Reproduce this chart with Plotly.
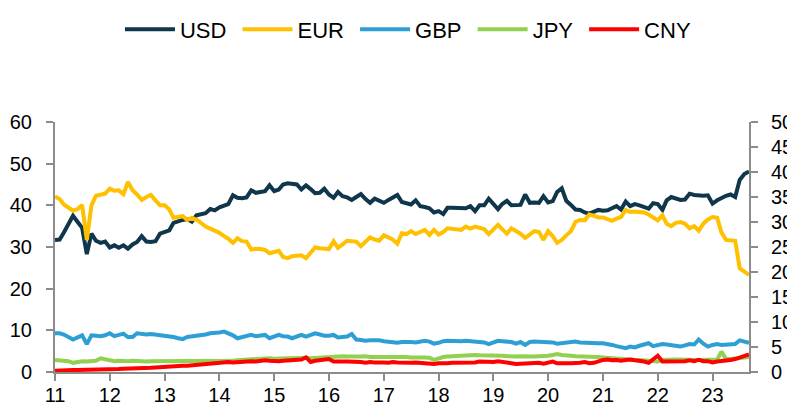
import pandas as pd
import plotly.graph_objects as go

months = pd.date_range("2011-01-01", periods=153, freq="MS")

usd = [31.7, 31.8, 33.5, 35.5, 37.5, 36.0, 34.6, 28.3, 33.2, 31.5, 31.0, 31.3,
       29.9, 30.4, 29.8, 30.4, 29.6, 30.6, 31.2, 32.6, 31.3, 31.2, 31.4, 33.2,
       33.6, 34.0, 35.8, 36.2, 36.5, 36.7, 36.1, 37.6, 37.8, 38.1, 39.1, 38.8,
       39.5, 39.9, 40.3, 42.4, 41.8, 41.7, 41.9, 43.6, 43.0, 43.2, 43.4, 44.8,
       43.4, 43.8, 45.0, 45.3, 45.1, 45.0, 43.8, 44.8, 43.9, 42.9, 43.0, 44.0,
       42.6, 41.8, 43.2, 42.2, 41.9, 41.3, 42.0, 42.7, 41.5, 40.6, 41.6, 41.2,
       40.6, 41.3, 41.8, 42.5, 40.8, 40.6, 40.2, 41.2, 39.8, 39.6, 39.3, 38.3,
       38.6, 37.9, 39.4, 39.4, 39.3, 39.4, 39.3, 39.8, 38.6, 40.0, 40.0, 41.6,
       40.2, 39.1, 40.3, 41.1, 40.0, 40.1, 40.1, 42.6, 40.6, 40.7, 40.6, 42.2,
       40.7, 41.0, 43.2, 44.1, 41.1, 40.1, 39.0, 38.9, 38.3, 38.0, 38.4, 38.9,
       38.7, 38.8, 39.3, 39.8, 39.0, 40.9, 39.8, 40.3, 40.0, 39.6, 39.2, 40.5,
       40.3, 38.9, 41.2, 42.0, 41.6, 41.3, 41.4, 42.8, 42.5, 42.3, 42.3, 42.4,
       40.4, 41.2, 41.8, 42.3, 42.6, 42.0, 46.1, 47.5, 48.1]

eur = [42.1, 41.5, 40.2, 39.3, 38.7, 39.1, 40.1, 31.7, 40.0, 42.3, 42.6, 42.8,
       44.0, 43.5, 43.6, 42.7, 45.6, 43.6, 42.6, 41.3, 42.0, 42.5, 41.2, 40.0,
       40.0, 39.0, 37.0, 37.2, 37.4, 36.5, 37.0, 36.6, 35.6, 34.9, 34.4, 34.0,
       33.4, 32.6, 32.0, 31.0, 32.1, 31.4, 31.3, 29.4, 29.6, 29.5, 29.3, 28.5,
       28.8, 29.1, 27.6, 27.3, 27.8, 27.9, 28.0, 27.3, 28.6, 29.9, 29.7, 29.6,
       29.5, 31.4, 29.8, 30.6, 31.5, 31.4, 31.3, 30.2, 31.2, 32.3, 31.8, 31.5,
       32.8, 32.4, 31.8, 30.8, 33.3, 33.1, 33.8, 33.1, 33.6, 34.1, 32.9, 34.1,
       33.0, 33.6, 34.5, 34.4, 34.3, 34.1, 34.9, 34.4, 34.9, 34.5, 34.3, 33.1,
       34.2, 35.3, 34.3, 33.2, 34.5, 33.9, 33.2, 32.2, 33.0, 33.8, 33.6, 31.7,
       33.8, 32.6, 31.0, 31.7, 32.8, 33.8, 36.0, 36.5, 36.4, 37.8, 37.5, 37.1,
       37.1, 36.8, 36.3, 36.8, 37.2, 38.9, 38.4, 38.5, 38.3, 38.3, 37.8, 37.0,
       36.4, 37.6, 35.6, 35.0, 35.8, 36.0, 35.6, 34.5, 35.0, 33.9, 35.6, 36.6,
       37.2, 37.0, 33.5, 31.7, 31.6, 31.5, 24.9, 24.0, 23.3]

gbp = [9.3, 9.3, 9.0, 8.4, 7.8, 8.3, 8.8, 6.7, 8.8, 8.7, 8.6, 8.8,
       9.3, 8.6, 9.0, 9.2, 8.4, 8.4, 9.3, 9.1, 9.0, 9.1, 9.0, 8.9,
       8.8, 8.6, 8.4, 8.1, 7.9, 8.4, 8.5, 8.6, 8.9, 9.0, 9.3, 9.3,
       9.5, 9.7, 9.3, 8.8, 8.1, 8.3, 8.6, 8.9, 8.6, 8.7, 8.9, 8.1,
       8.5, 8.9, 8.6, 8.5, 8.1, 8.5, 8.9, 8.5, 8.9, 9.3, 9.0, 8.7,
       8.7, 8.9, 8.3, 8.3, 8.5, 9.1, 7.8, 7.7, 7.5, 7.6, 7.7, 7.6,
       7.4, 7.2, 7.0, 7.0, 7.2, 7.3, 7.2, 7.1, 7.3, 7.5, 7.3, 6.8,
       7.0, 7.4, 7.5, 7.4, 7.3, 7.4, 7.5, 7.4, 7.3, 7.2, 7.1, 6.7,
       7.1, 7.5, 7.4, 7.4, 7.2, 6.8, 7.2, 6.5, 7.2, 7.3, 7.3, 7.3,
       7.3, 7.1, 6.8, 6.9, 7.0, 7.1, 7.3, 7.1, 7.0, 7.0, 6.9, 6.9,
       6.9, 6.8, 6.5, 6.2, 6.0, 5.7, 6.1, 5.9, 6.3, 6.6, 6.9, 6.2,
       6.5, 6.7, 6.6, 6.5, 6.3, 6.1, 6.4, 6.7, 6.6, 7.8, 6.8, 6.1,
       6.5, 6.7, 6.5, 6.6, 6.7, 6.7, 7.6, 7.2, 7.0]

jpy = [2.9, 2.8, 2.8, 2.6, 2.2, 2.4, 2.6, 2.5, 2.6, 2.7, 3.3, 3.0,
       2.7, 2.6, 2.7, 2.6, 2.6, 2.7, 2.6, 2.6, 2.5, 2.6, 2.6, 2.5,
       2.6, 2.6, 2.7, 2.5, 2.6, 2.6, 2.7, 2.6, 2.6, 2.7, 2.6, 2.7,
       2.7, 2.7, 2.6, 2.7, 2.8, 2.9, 3.0, 2.9, 3.0, 3.1, 3.2, 3.3,
       3.2, 3.3, 3.2, 3.3, 3.3, 3.4, 3.3, 3.4, 3.3, 3.4, 3.5, 3.6,
       3.7, 3.6, 3.7, 3.8, 3.7, 3.8, 3.7, 3.7, 3.8, 3.6, 3.7, 3.6,
       3.6, 3.7, 3.6, 3.6, 3.7, 3.6, 3.5, 3.6, 3.5, 3.5, 3.4, 2.9,
       3.3, 3.6, 3.7, 3.8, 3.8, 3.9, 3.9, 4.0, 4.1, 4.0, 4.0, 4.1,
       4.0, 4.1, 3.9, 3.8, 3.7, 3.7, 3.8, 3.7, 3.6, 3.7, 3.8, 3.8,
       3.9, 4.1, 4.3, 4.1, 3.9, 3.9, 3.8, 3.8, 3.7, 3.7, 3.6, 3.6,
       3.5, 3.4, 3.2, 3.1, 3.0, 3.0, 3.0, 2.9, 2.9, 2.8, 2.8, 2.8,
       2.5, 2.9, 3.0, 3.0, 3.0, 3.0, 2.9, 2.9, 2.9, 2.9, 2.9, 2.9,
       3.0, 3.0, 4.9, 3.1, 3.1, 3.2, 3.4, 3.6, 3.6]

cny = [0.3, 0.4, 0.4, 0.4, 0.5, 0.5, 0.5, 0.5, 0.6, 0.6, 0.6, 0.6,
       0.7, 0.7, 0.7, 0.8, 0.8, 0.8, 0.9, 0.9, 1.0, 1.0, 1.1, 1.2,
       1.3, 1.3, 1.4, 1.5, 1.5, 1.5, 1.6, 1.7, 1.8, 2.0, 2.2, 2.3,
       2.4, 2.3, 2.4, 2.3, 2.4, 2.5, 2.5, 2.6, 2.5, 2.7, 2.8, 2.7,
       2.6, 2.6, 2.7, 2.8, 2.9, 2.9, 3.0, 3.5, 2.4, 2.7, 2.8, 2.9,
       3.1, 2.5, 2.6, 2.5, 2.5, 2.5, 2.3, 2.4, 2.2, 2.4, 2.3, 2.4,
       2.3, 2.2, 2.4, 2.3, 2.2, 2.3, 2.2, 2.3, 2.2, 2.3, 2.2, 1.9,
       2.1, 2.0, 2.1, 2.2, 2.2, 2.3, 2.2, 2.4, 2.3, 2.5, 2.4, 2.5,
       2.4, 2.6, 2.5, 2.2, 2.1, 1.9, 2.0, 2.1, 2.0, 2.1, 2.2, 2.0,
       2.3, 2.5, 2.1, 2.0, 2.1, 2.1, 2.1, 2.2, 2.4, 2.1, 2.2, 2.6,
       2.9, 3.0, 2.8, 2.9, 2.7, 2.9, 3.0, 2.8, 2.7, 2.5, 2.2, 3.1,
       3.9, 2.5, 2.5, 2.5, 2.5, 2.5, 2.6, 2.8, 2.6, 2.9, 2.6, 2.6,
       2.3, 2.5, 2.7, 2.8, 2.9, 3.1, 3.5, 3.9, 4.2]

series = [("USD", usd, "#10364B"), ("EUR", eur, "#FFC000"),
          ("GBP", gbp, "#2E9FD5"), ("JPY", jpy, "#92D050"),
          ("CNY", cny, "#FF0000")]

left_ticks = [0, 10, 20, 30, 40, 50, 60]
right_ticks = [0, 5, 10, 15, 20, 25, 30, 35, 40, 45, 50]

fig = go.Figure()
for name, vals, col in series:
    fig.add_trace(go.Scatter(x=months, y=vals, name=name + "\u00a0", mode="lines",
                             line=dict(color=col, width=4)))
# empty trace so that the secondary (right) axis is drawn
fig.add_trace(go.Scatter(x=[], y=[], yaxis="y2", showlegend=False,
                         hoverinfo="skip", mode="lines"))

axis_col = "#8C8C8C"
font_family = "Liberation Sans, Arial"
tick_font = dict(family=font_family, size=20, color="#000000")

axis_common = dict(showgrid=False, zeroline=False, showline=True,
                   linecolor=axis_col, linewidth=2, automargin=False,
                   ticks="outside", ticklen=7, tickwidth=2, tickcolor=axis_col,
                   tickfont=tick_font)

# the page body adds an 8px offset, so the figure is 787x399
fig.update_layout(
    template="none",
    width=787, height=399,
    margin=dict(l=47, r=46, t=114, b=35, autoexpand=False),
    paper_bgcolor="white", plot_bgcolor="white",
    showlegend=True,
    legend=dict(orientation="h", xref="container", yref="container",
                x=0.512, xanchor="center", y=0.946, yanchor="middle",
                font=dict(family=font_family, size=22, color="#000000"),
                bgcolor="rgba(0,0,0,0)",
                itemwidth=50, traceorder="normal"),
    xaxis=dict(range=["2011-01-01", "2023-09-01"], tickformat="%y",
               dtick="M12", tick0="2011-01-01", ticklabelstandoff=-3,
               **axis_common),
    yaxis=dict(range=[0, 60], tickvals=left_ticks, ticklabelstandoff=10,
               **axis_common),
    yaxis2=dict(range=[0, 50], tickvals=right_ticks, overlaying="y",
                side="right", anchor="x", ticklabelstandoff=9,
                **axis_common),
)

fig.write_html("out.html")
